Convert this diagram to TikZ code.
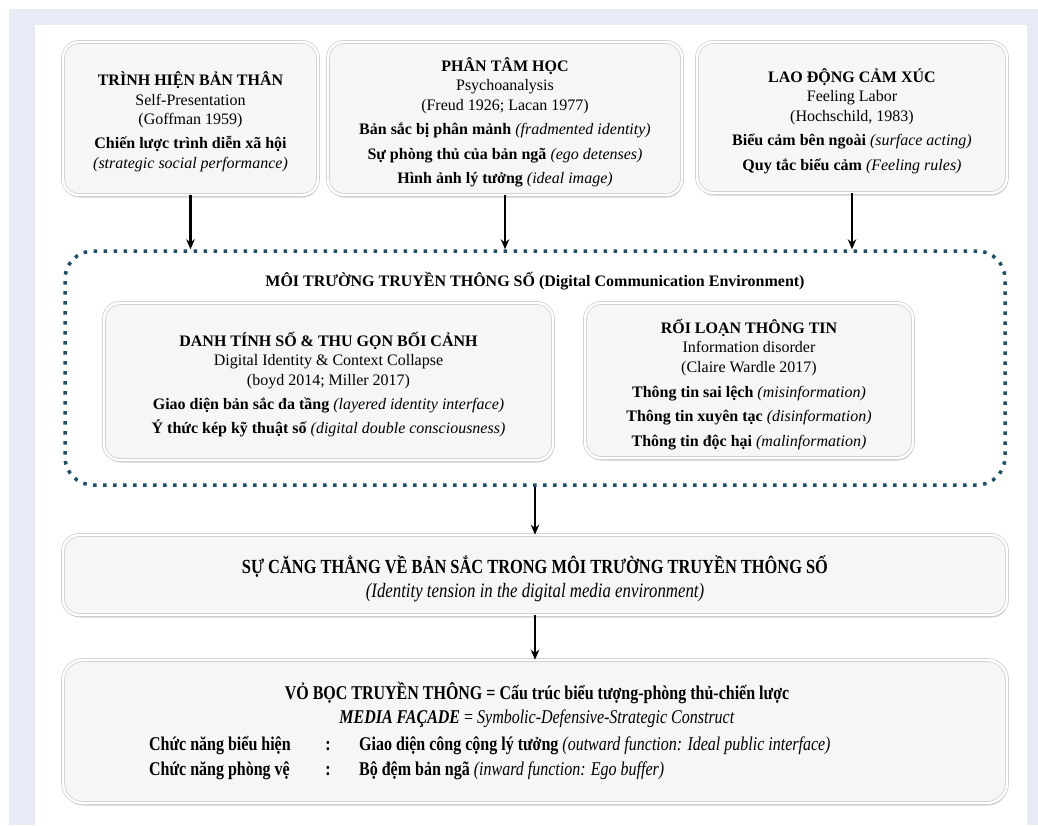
\documentclass[tikz,border=0pt]{standalone}
\usepackage{fontspec}
\setmainfont{Liberation Serif}
\newfontfamily\condserif[FakeStretch=0.82]{Liberation Serif}
\usetikzlibrary{shadows,arrows.meta}
\definecolor{bgblue}{RGB}{231,235,246}
\definecolor{dotteal}{RGB}{27,80,110}
\definecolor{boxfill}{RGB}{246,246,246}
\begin{document}
\begin{tikzpicture}[x=1pt,y=-1pt,
  bevel/.style={draw=gray!40, line width=0.7pt, double=white, double distance=2.4pt,
    fill=boxfill, rounded corners=16pt, inner sep=0pt,
    drop shadow={shadow xshift=0.8pt, shadow yshift=-2.5pt, opacity=0.4, fill=gray}},
  txt/.style={align=center, inner sep=0pt, font=\fontsize{16pt}{19.5pt}\selectfont},
  cond/.style={inner sep=0pt, font=\condserif\fontsize{19.5pt}{24pt}\selectfont},
  envbox/.style={draw=dotteal, line width=3.5pt, dash pattern=on 3.5pt off 6.5pt,
    rounded corners=28pt, inner sep=0pt},
  arr/.style={draw=black, line width=2.2pt, -{Stealth[length=10pt,width=8.5pt]}}
]
\useasboundingbox (0,0) rectangle (1038,825);
\fill[white] (0,0) rectangle (1038,825);
\fill[bgblue] (9,9) rectangle (1038,825);
\fill[white] (35,25) rectangle (1027,825);

% top boxes
\node[bevel, minimum width=255pt, minimum height=153pt] (b1) at (190.5,118.5) {};
\node[txt] (b1t) at ([yshift=-3.5pt]b1.center)
  {\textbf{TRÌNH HIỆN BẢN THÂN}\\ Self-Presentation\\ (Goffman 1959)\\[4.5pt]
   \textbf{Chiến lược trình diễn xã hội}\\ \textit{(strategic social performance)}};
\node[bevel, minimum width=354pt, minimum height=153pt] (b2) at (505,118.5) {};
\node[txt] (b2t) at ([yshift=-4pt]b2.center)
  {\textbf{PHÂN TÂM HỌC}\\ Psychoanalysis\\ (Freud 1926; Lacan 1977)\\[5pt]
   \textbf{Bản sắc bị phân mảnh} \textit{(fradmented identity)}\\[5pt]
   \textbf{Sự phòng thủ của bản ngã} \textit{(ego detenses)}\\[5pt]
   \textbf{Hình ảnh lý tưởng} \textit{(ideal image)}};
\node[bevel, minimum width=310pt, minimum height=151pt] (b3) at (852,117.5) {};
\node[txt] (b3t) at ([yshift=-3.5pt]b3.center)
  {\textbf{LAO ĐỘNG CẢM XÚC}\\ Feeling Labor\\ (Hochschild, 1983)\\[5pt]
   \textbf{Biểu cảm bên ngoài} \textit{(surface acting)}\\[5pt]
   \textbf{Quy tắc biểu cảm} \textit{(Feeling rules)}};

% environment frame
\node[envbox, minimum width=940pt, minimum height=234pt] (env) at (535,368) {};
\node[txt, font=\bfseries\fontsize{16pt}{19pt}\selectfont] (envt) at (535,281)
  {MÔI TRƯỜNG TRUYỀN THÔNG SỐ (Digital Communication Environment)};

\node[bevel, minimum width=449pt, minimum height=157pt] (i1) at (328.5,381.5) {};
\node[txt] (i1t) at ([yshift=-3pt]i1.center)
  {\textbf{DANH TÍNH SỐ \& THU GỌN BỐI CẢNH}\\ Digital Identity \& Context Collapse\\ (boyd 2014; Miller 2017)\\[5pt]
   \textbf{Giao diện bản sắc đa tầng} \textit{(layered identity interface)}\\[4.5pt]
   \textbf{Ý thức kép kỹ thuật số} \textit{(digital double consciousness)}};
\node[bevel, minimum width=328pt, minimum height=155pt] (i2) at (749,380.5) {};
\node[txt] (i2t) at ([yshift=-4pt]i2.center)
  {\textbf{RỐI LOẠN THÔNG TIN}\\ Information disorder\\ (Claire Wardle 2017)\\[6pt]
   \textbf{Thông tin sai lệch} \textit{(misinformation)}\\[4.5pt]
   \textbf{Thông tin xuyên tạc} \textit{(disinformation)}\\[5pt]
   \textbf{Thông tin độc hại} \textit{(malinformation)}};

% tension box
\node[bevel, minimum width=944pt, minimum height=80pt] (ten) at (535,575) {};
\node[cond, align=center] (tent) at ([yshift=-3.5pt]ten.center)
  {\textbf{\fontsize{20pt}{24pt}\selectfont SỰ CĂNG THẲNG VỀ BẢN SẮC TRONG MÔI TRƯỜNG TRUYỀN THÔNG SỐ}\\
   \textit{\fontsize{20.5pt}{24pt}\selectfont (Identity tension in the digital media environment)}};

% facade box
\node[bevel, rounded corners=20pt, minimum width=944pt, minimum height=143pt] (fac) at (535,731.5) {};
\node[cond] (f1) at (537,693)
  {\textbf{VỎ BỌC TRUYỀN THÔNG = Cấu trúc biểu tượng-phòng thủ-chiến lược}};
\node[cond] (f2) at (537,719)
  {\textit{\textbf{MEDIA FAÇADE}} = \textit{Symbolic-Defensive-Strategic Construct}};
\node[cond, anchor=west] (r1a) at (149,746) {\textbf{Chức năng biểu hiện}};
\node[cond] (r1b) at (328,746) {\textbf{:}};
\node[cond, anchor=west] (r1c) at (359,746)
  {\textbf{Giao diện công cộng lý tưởng} \textit{(outward function: Ideal public interface)}};
\node[cond, anchor=west] (r2a) at (149,771) {\textbf{Chức năng phòng vệ}};
\node[cond] (r2b) at (328,771) {\textbf{:}};
\node[cond, anchor=west] (r2c) at (359,771)
  {\textbf{Bộ đệm bản ngã} \textit{(inward function: Ego buffer)}};

% arrows
\draw[arr] (b1.south) -- (b1.south |- env.north);
\draw[arr] (b2.south) -- (b2.south |- env.north);
\draw[arr] (b3.south) -- (b3.south |- env.north);
\draw[arr] (env.south) -- (ten.north);
\draw[arr] (ten.south) -- (fac.north);
\end{tikzpicture}
\end{document}
